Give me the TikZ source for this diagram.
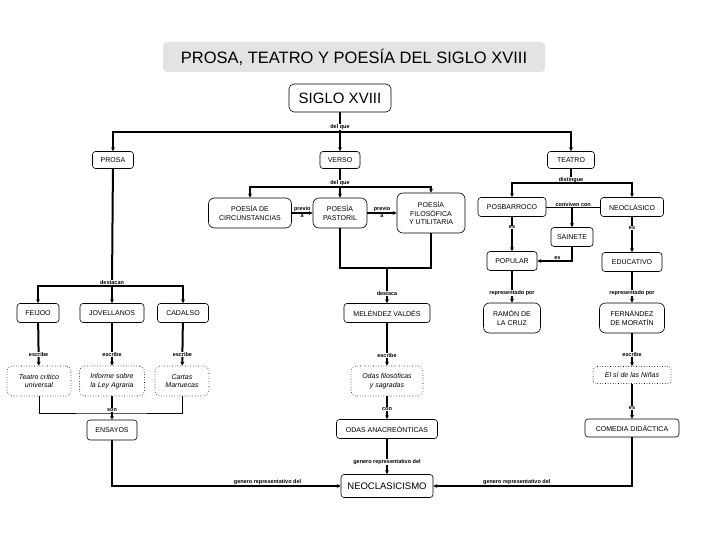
\documentclass[tikz,border=0pt]{standalone}
\usepackage{fontspec}
\setmainfont{Liberation Sans}
\usetikzlibrary{arrows.meta}

\begin{document}
\begin{tikzpicture}[x=1pt,y=-1pt,
    box/.style={draw, rounded corners=3pt, line width=0.6pt, align=center, inner sep=1pt, font=\fontsize{7}{8.5}\selectfont},
    obra/.style={box, dotted, font=\fontsize{7}{8.5}\selectfont\itshape},
    lab/.style={fill=white, inner sep=0.4pt, font=\fontsize{5.5}{6}\selectfont\bfseries},
    conn/.style={line width=2pt},
    link/.style={conn, -{Stealth[length=4pt,width=4pt]}},
    fine/.style={line width=0.8pt}]
  \useasboundingbox (0,0) rectangle (720,540);
  \node[fill=gray!22, rounded corners=4pt, minimum width=382pt, minimum height=30pt, font=\fontsize{16.5}{18}\selectfont] (title) at (354,57) {PROSA, TEATRO Y POESÍA DEL SIGLO XVIII};
  \node[box, rounded corners=5pt, minimum width=102pt, minimum height=28pt, font=\fontsize{15}{17}\selectfont] (siglo) at (340,98) {SIGLO XVIII};

  \node[box, minimum width=41pt, minimum height=17pt] (prosa) at (113,160) {PROSA};
  \node[box, minimum width=40pt, minimum height=17pt] (verso) at (340,160) {VERSO};
  \node[box, minimum width=47pt, minimum height=17pt] (teatro) at (571,160) {TEATRO};

  \node[box, rounded corners=6pt, minimum width=83pt, minimum height=30pt] (circ) at (250,213) {POESÍA DE\\CIRCUNSTANCIAS};
  \node[box, rounded corners=6pt, minimum width=54pt, minimum height=30pt] (pastoril) at (340,213) {POESÍA\\PASTORIL};
  \node[box, rounded corners=6pt, minimum width=68pt, minimum height=40pt] (filos) at (431,213) {POESÍA\\FILOSÓFICA\\Y UTILITARIA};
  \node[box, minimum width=86pt, minimum height=19pt] (melendez) at (387,313) {MELÉNDEZ VALDÉS};
  \node[obra, rounded corners=5pt, minimum width=72pt, minimum height=30pt] (odasfil) at (387,381) {Odas filosóficas\\y sagradas};
  \node[box, minimum width=101pt, minimum height=19pt] (anacreonticas) at (387,429) {ODAS ANACREÓNTICAS};
  \node[box, minimum width=92pt, minimum height=23pt, font=\fontsize{9.5}{11}\selectfont] (neoclasicismo) at (387,486) {NEOCLASICISMO};

  \node[box, minimum width=68pt, minimum height=19pt] (posbarroco) at (512,207) {POSBARROCO};
  \node[box, minimum width=63pt, minimum height=19pt] (neoclasico) at (632,207) {NEOCLÁSICO};
  \node[box, minimum width=42pt, minimum height=19pt] (sainete) at (572,237) {SAINETE};
  \node[box, minimum width=50pt, minimum height=19pt] (popular) at (512,261) {POPULAR};
  \node[box, minimum width=60pt, minimum height=19pt] (educativo) at (632,262) {EDUCATIVO};
  \node[box, rounded corners=6pt, minimum width=57pt, minimum height=30pt] (ramon) at (512,318) {RAMÓN DE\\LA CRUZ};
  \node[box, rounded corners=6pt, minimum width=65pt, minimum height=30pt] (moratin) at (632,318) {FERNÁNDEZ\\DE MORATÍN};
  \node[obra, minimum width=78pt, minimum height=17pt] (elsi) at (632,375) {El sí de las Niñas};
  \node[box, minimum width=94pt, minimum height=18pt] (comedia) at (632,428) {COMEDIA DIDÁCTICA};

  \node[box, minimum width=42pt, minimum height=19pt] (feijoo) at (38,313) {FEIJOO};
  \node[box, minimum width=64pt, minimum height=19pt] (jovellanos) at (112,313) {JOVELLANOS};
  \node[box, minimum width=51pt, minimum height=19pt] (cadalso) at (183,313) {CADALSO};
  \node[obra, rounded corners=5pt, minimum width=64pt, minimum height=30pt] (teatrocritico) at (39,381) {Teatro crítico\\universal};
  \node[obra, rounded corners=5pt, minimum width=65pt, minimum height=30pt] (informe) at (112,381) {Informe sobre\\la Ley Agraria};
  \node[obra, rounded corners=5pt, minimum width=54pt, minimum height=30pt] (cartas) at (182,381) {Cartas\\Marruecas};
  \node[box, minimum width=50pt, minimum height=20pt] (ensayos) at (112,430) {ENSAYOS};

  \coordinate (j1) at (340,132);
  \coordinate (j2) at (340,187);
  \coordinate (j4) at (431,268);
  \coordinate (j5) at (387,268);
  \coordinate (j6) at (571,183);
  \coordinate (j7) at (572,207);
  \coordinate (j8) at (112,286);
  \coordinate (j9) at (112,413);

  \draw[conn] (siglo) -- node[lab, pos=.75] {del que} (j1);
  \draw[link] (j1) -| (prosa);
  \draw[link] (j1) -- (verso);
  \draw[link] (j1) -| (teatro);

  \draw[conn] (verso) -- node[lab, pos=.79] {del que} (j2);
  \draw[link] (j2) -| (circ);
  \draw[link] (j2) -- (pastoril);
  \draw[link] (j2) -| (filos);
  \draw[link] (circ) -- node[lab, above, fill=none] {previo} node[lab, below, fill=none] {a} (pastoril);
  \draw[link] (pastoril) -- node[lab, above, fill=none] {previo} node[lab, below, fill=none] {a} (filos);
  \draw[conn] (pastoril) |- (j4) -- (filos);
  \draw[link] (j5) -- node[lab, pos=.72] {destaca} (melendez);
  \draw[link] (melendez) -- node[lab, pos=.77] {escribe} (odasfil);
  \draw[link] (odasfil) -- node[lab, pos=.57] {con} (anacreonticas);
  \draw[link] (anacreonticas) -- node[lab, pos=.65] {genero representativo del} (neoclasicismo);

  \draw[conn] (teatro) -- node[lab, pos=.8] {distingue} (j6);
  \draw[link] (j6) -| (posbarroco);
  \draw[link] (j6) -| (neoclasico);
  \draw[fine] (posbarroco) -- node[lab, above, fill=none] {conviven con} (neoclasico);
  \draw[link] (j7) -- (sainete);
  \draw[link] (sainete) |- node[lab, above, pos=.71] {es} (popular);
  \draw[link] (posbarroco) -- node[lab, pos=.31] {es} (popular);
  \draw[link] (neoclasico) -- node[lab, pos=.31] {es} (educativo);
  \draw[link] (popular) -- node[lab, pos=.69] {representado por} (ramon);
  \draw[link] (educativo) -- node[lab, pos=.68] {representado por} (moratin);
  \draw[link] (moratin) -- node[lab, pos=.65] {escribe} (elsi);
  \draw[link] (elsi) -- node[lab, pos=.69] {es} (comedia);
  \draw[link] (comedia) |- node[lab, above, pos=.79] {genero representativo del} (neoclasicismo);

  \draw[conn] (prosa) -- node[lab, pos=.97] {destacan} (j8);
  \draw[link] (j8) -| (feijoo);
  \draw[link] (j8) -- (jovellanos);
  \draw[link] (j8) -| (cadalso);
  \draw[link] (feijoo) -- node[lab, pos=.74] {escribe} (teatrocritico);
  \draw[link] (jovellanos) -- node[lab, pos=.74] {escribe} (informe);
  \draw[link] (cadalso) -- node[lab, pos=.74] {escribe} (cartas);
  \draw[fine] (teatrocritico) |- (j9) -| (cartas);
  \draw[link] (informe) -- node[lab, pos=.58] {son} (ensayos);
  \draw[link] (ensayos) |- node[lab, above, pos=.84] {genero representativo del} (neoclasicismo);
\end{tikzpicture}
\end{document}
